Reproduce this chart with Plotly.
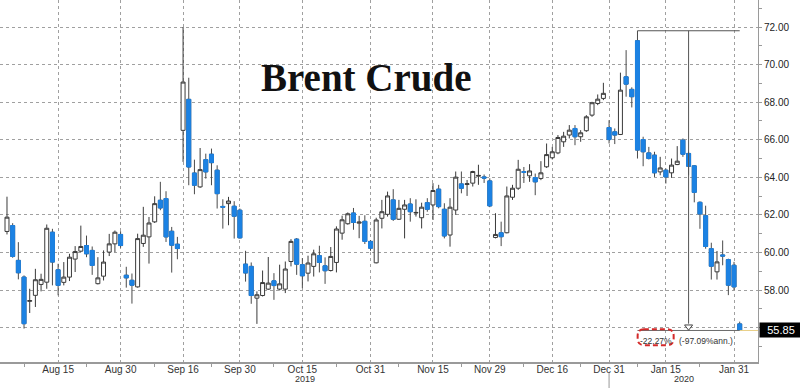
import pandas as pd
import plotly.graph_objects as go

# ---------------- data ----------------
holidays = ["2019-12-25", "2020-01-01"]
trading_days = [d.strftime("%Y-%m-%d") for d in pd.bdate_range("2019-08-02", "2020-02-03")
                if d.strftime("%Y-%m-%d") not in holidays]

open_ = [61.12, 61.43, 59.58, 58.69, 57.40, 57.72, 58.30, 58.42, 61.08, 59.08,
         58.41, 58.69, 59.65, 60.07, 60.37, 60.11, 58.34, 58.74, 60.02, 60.46,
         60.96, 58.79, 58.52, 58.17, 60.48, 60.83, 61.63, 62.78, 62.87, 61.13,
         60.44, 66.50, 68.15, 64.23, 63.49, 64.94, 65.23, 64.38, 62.45, 62.60,
         62.46, 62.25, 59.38, 59.26, 57.57, 57.71, 58.05, 58.49, 58.05, 58.05,
         59.52, 60.71, 59.35, 58.90, 59.26, 59.83, 59.29, 59.04, 59.47, 61.03,
         61.53, 62.10, 61.56, 61.66, 60.59, 59.45, 61.82, 62.03, 62.80, 61.77,
         62.30, 62.58, 62.10, 61.85, 62.65, 62.53, 63.37, 62.30, 60.93, 62.26,
         63.65, 63.62, 63.69, 64.06, 64.02, 63.81, 60.80, 61.05, 61.05, 62.94,
         63.42, 64.30, 64.08, 63.99, 63.94, 64.56, 65.04, 65.30, 65.89, 66.25,
         66.60, 66.16, 66.48, 67.31, 67.93, 68.20, 66.65, 66.42, 66.28, 69.35,
         68.68, 71.27, 66.01, 65.30, 65.18, 64.29, 64.38, 64.24, 64.68, 65.98,
         65.27, 64.61, 62.67, 61.96, 60.20, 58.97, 59.87, 59.62, 59.32, 56.20]
high = [62.97, 61.56, 60.55, 58.78, 58.07, 59.13, 58.87, 61.49, 61.26, 59.40,
        59.49, 59.93, 60.34, 61.43, 60.90, 60.32, 59.75, 60.11, 60.99, 61.17,
        61.13, 59.24, 58.88, 61.00, 62.43, 61.89, 62.99, 63.76, 63.26, 61.36,
        60.83, 72.00, 69.30, 64.94, 65.56, 65.26, 65.53, 64.64, 62.83, 62.96,
        62.73, 62.34, 60.09, 59.47, 57.93, 59.04, 59.76, 58.90, 59.35, 59.52,
        60.71, 60.77, 59.70, 59.83, 60.15, 60.36, 59.74, 60.29, 61.39, 61.96,
        62.13, 62.37, 61.95, 61.98, 60.66, 61.85, 62.80, 63.24, 63.37, 62.80,
        62.80, 62.89, 62.83, 62.65, 62.89, 63.69, 63.60, 62.62, 62.89, 64.31,
        64.31, 63.86, 64.35, 64.67, 64.15, 63.95, 62.09, 61.64, 63.51, 63.60,
        64.93, 64.55, 64.70, 64.20, 64.86, 65.80, 65.62, 66.25, 66.42, 66.78,
        66.78, 66.51, 67.31, 68.02, 68.41, 69.03, 67.04, 66.60, 69.57, 70.77,
        68.79, 71.80, 66.16, 65.62, 65.36, 65.09, 64.47, 65.00, 65.66, 66.07,
        65.36, 64.65, 62.72, 62.49, 60.52, 60.08, 60.64, 59.67, 59.50, 56.32]
low = [60.96, 59.72, 58.57, 55.95, 56.78, 57.10, 57.93, 58.07, 58.25, 57.72,
       58.25, 58.48, 58.96, 60.02, 59.75, 58.81, 58.30, 58.51, 59.81, 60.02,
       60.25, 58.13, 57.28, 58.13, 60.30, 59.41, 61.57, 62.25, 60.56, 58.93,
       59.64, 64.82, 63.58, 63.10, 63.44, 63.93, 63.58, 62.34, 61.27, 61.45,
       60.74, 60.74, 58.45, 57.27, 56.20, 57.66, 58.01, 57.48, 57.98, 57.84,
       59.26, 58.81, 58.10, 58.46, 58.72, 58.94, 58.33, 58.99, 58.94, 60.68,
       61.48, 61.21, 60.76, 60.45, 60.09, 59.42, 61.28, 61.91, 61.68, 61.73,
       60.75, 61.64, 61.91, 61.28, 62.17, 61.73, 62.35, 60.75, 60.31, 62.00,
       63.15, 63.01, 63.51, 63.60, 63.70, 62.41, 60.75, 60.34, 61.02, 62.80,
       63.33, 63.70, 63.76, 63.05, 63.85, 64.50, 64.95, 65.23, 65.62, 66.07,
       65.71, 65.89, 66.42, 67.22, 67.84, 68.11, 65.80, 65.77, 66.25, 68.29,
       67.72, 65.00, 64.59, 64.95, 64.02, 64.11, 63.67, 63.97, 64.65, 65.09,
       64.11, 62.67, 61.26, 60.20, 58.56, 58.56, 59.32, 57.73, 58.00, 55.85]
close = [61.88, 59.79, 58.92, 56.21, 57.44, 58.55, 58.57, 61.29, 59.49, 58.25,
         58.69, 59.75, 60.05, 60.32, 59.93, 59.31, 58.65, 59.49, 60.46, 61.08,
         60.37, 58.65, 58.26, 60.74, 60.92, 61.57, 62.60, 62.37, 60.83, 60.39,
         60.21, 69.07, 64.55, 63.58, 64.41, 64.29, 64.78, 63.13, 62.41, 62.74,
         61.93, 60.78, 58.91, 57.71, 57.75, 58.40, 58.37, 58.24, 58.33, 59.12,
         60.59, 59.38, 58.76, 59.44, 59.93, 59.47, 59.03, 59.79, 61.25, 61.74,
         62.06, 61.60, 61.62, 60.59, 60.23, 61.73, 62.17, 63.01, 61.77, 62.35,
         62.53, 62.17, 62.13, 62.41, 62.30, 63.30, 62.44, 60.88, 62.41, 64.01,
         63.42, 63.66, 64.31, 64.10, 63.96, 62.48, 60.96, 60.84, 63.01, 63.42,
         64.43, 64.27, 64.34, 63.76, 64.24, 65.21, 65.36, 66.12, 66.19, 66.51,
         66.16, 66.37, 67.22, 67.97, 68.16, 68.47, 66.01, 66.25, 68.64, 68.96,
         68.29, 65.45, 65.36, 65.00, 64.24, 64.50, 64.02, 64.65, 64.86, 65.23,
         64.59, 63.20, 62.05, 60.32, 59.27, 59.50, 59.81, 58.26, 58.17, 55.85]

tick_dates = ["2019-08-15", "2019-08-30", "2019-09-16", "2019-09-30", "2019-10-15",
              "2019-10-31", "2019-11-15", "2019-11-29", "2019-12-16", "2019-12-31",
              "2020-01-15", "2020-01-31"]
tick_labels = ["Aug 15", "Aug 30", "Sep 16", "Sep 30", "Oct 15", "Oct 31",
               "Nov 15", "Nov 29", "Dec 16", "Dec 31", "Jan 15", "Jan 31"]
minor_dates = ["2019-08-07", "2019-08-22", "2019-09-09", "2019-09-23", "2019-10-08",
               "2019-10-23", "2019-11-07", "2019-11-22", "2019-12-09", "2019-12-23",
               "2020-01-08", "2020-01-23"]
year_labels = ["2019", "2020"]
year_break_date = "2019-12-31"
y_ticks = [56, 58, 60, 62, 64, 66, 68, 70, 72]
y_tick_labels = ["", "58.00", "60.00", "62.00", "64.00", "66.00", "68.00", "70.00", "72.00"]
y_minor = [55, 57, 59, 61, 63, 65, 67, 69, 71, 73]
title_text = "Brent Crude"
move_text = "-22.27%"
annual_text = "(-97.09%ann.)"
peak_date = "2020-01-08"

# ---------------- derived ----------------
pos = {d: i for i, d in enumerate(trading_days)}
x = list(range(len(trading_days)))
n = len(x)
BLUE = "#1c82e3"
GRID = "#a0a0a0"
SANS = "Liberation Sans, Arial, sans-serif"

x_range = [-1.23, 132.22]
y_range = [54.172, 73.437]

i_peak = pos[peak_date]
i_last = n - 1
hi = high[i_peak]
last = close[-1]
i_mid = (i_peak + i_last) / 2.0

fig = go.Figure()

# all candles: gray wicks / outlines
fig.add_trace(go.Candlestick(
    x=x, open=open_, high=high, low=low, close=close,
    increasing=dict(line=dict(color="#3a3a3a", width=1), fillcolor="white"),
    decreasing=dict(line=dict(color="#4a4a4a", width=1), fillcolor=BLUE),
    whiskerwidth=0, hoverinfo="skip", showlegend=False))

# blue bodies on top of down candles
dn = [i for i in x if close[i] < open_[i]]
fig.add_trace(go.Candlestick(
    x=dn, open=[open_[i] for i in dn], close=[close[i] for i in dn],
    high=[open_[i] for i in dn], low=[close[i] for i in dn],
    increasing=dict(line=dict(color=BLUE, width=1), fillcolor=BLUE),
    decreasing=dict(line=dict(color=BLUE, width=1), fillcolor=BLUE),
    whiskerwidth=0, hoverinfo="skip", showlegend=False))

# measurement lines
fig.add_trace(go.Scatter(x=[i_peak, i_last], y=[hi, hi], mode="lines",
                         line=dict(color="#555555", width=1), hoverinfo="skip", showlegend=False))
fig.add_trace(go.Scatter(x=[i_peak, i_last], y=[last, last], mode="lines",
                         line=dict(color="#6a6a6a", width=1), hoverinfo="skip", showlegend=False))
fig.add_trace(go.Scatter(x=[i_last, x_range[1]], y=[last, last], mode="lines",
                         line=dict(color="#e9cf86", width=1), hoverinfo="skip", showlegend=False))
fig.add_trace(go.Scatter(x=[i_mid, i_mid], y=[hi, last + 0.36], mode="lines",
                         line=dict(color="#555555", width=1), hoverinfo="skip", showlegend=False))
fig.add_trace(go.Scatter(x=[i_mid], y=[last + 0.2], mode="markers",
                         marker=dict(symbol="triangle-down-open", size=7,
                                     color="#444444", line=dict(width=1)),
                         hoverinfo="skip", showlegend=False))

# red dashed rounded box around move text
bx0, bx1 = i_peak + 0.03, i_peak + 6.37
by0, by1 = last - 0.78, last + 0.06
rx, ry = 1.1, 0.34
path = (f"M {bx0+rx},{by1} L {bx1-rx},{by1} Q {bx1},{by1} {bx1},{by1-ry} "
        f"L {bx1},{by0+ry} Q {bx1},{by0} {bx1-rx},{by0} L {bx0+rx},{by0} "
        f"Q {bx0},{by0} {bx0},{by0+ry} L {bx0},{by1-ry} Q {bx0},{by1} {bx0+rx},{by1} Z")
shapes = [
    dict(type="path", path=path, xref="x", yref="y", layer="above",
         line=dict(color="#d42a2a", width=2, dash="5px,3px")),
    dict(type="line", xref="x", yref="paper", x0=pos[year_break_date], x1=pos[year_break_date],
         y0=-0.03, y1=-0.075, line=dict(color="#999999", width=1)),
]

annotations = [
    dict(text="<b>" + title_text + "</b>", x=0.484, y=0.787, xref="paper", yref="paper",
         showarrow=False, font=dict(family="Liberation Serif, Times New Roman, serif",
                                    size=39, color="#111111"), xanchor="center", yanchor="middle"),
    dict(text=move_text, x=(bx0 + bx1) / 2, y=last - 0.19,
         xref="x", yref="y", showarrow=False, yanchor="top",
         font=dict(family=SANS, size=8.5, color="#333333")),
    dict(text=annual_text, x=i_peak + 12.1, y=last - 0.19, xref="x", yref="y", showarrow=False,
         yanchor="top", font=dict(family=SANS, size=8.5, color="#333333")),
    dict(text=f"{last:.2f}", x=1.0, y=last, xref="paper", yref="y", xanchor="left",
         yanchor="middle", showarrow=False, bgcolor="black", width=40, height=12, xshift=1,
         font=dict(family=SANS, size=11, color="white")),
    dict(text=year_labels[0], x=(x_range[0] + pos[year_break_date]) / 2, y=-0.048,
         xref="x", yref="paper", showarrow=False, yanchor="middle",
         font=dict(family=SANS, size=9, color="#333333")),
    dict(text=year_labels[1], x=(pos[year_break_date] + x_range[1]) / 2, y=-0.048,
         xref="x", yref="paper", showarrow=False, yanchor="middle",
         font=dict(family=SANS, size=9, color="#333333")),
]

fig.update_layout(
    width=800, height=388,
    margin=dict(l=0, r=42, t=0, b=26),
    paper_bgcolor="white", plot_bgcolor="white",
    boxgap=0.3, boxgroupgap=0,
    shapes=shapes, annotations=annotations,
    xaxis=dict(
        range=x_range, rangeslider=dict(visible=False), tickmode="array",
        tickvals=[pos[d] for d in tick_dates], ticktext=tick_labels,
        showgrid=True, gridcolor=GRID, griddash="dot", gridwidth=1,
        zeroline=False, showline=True, linecolor="#9a9a9a", linewidth=2,
        ticks="", ticklabelstandoff=-3,
        tickfont=dict(family=SANS, size=10, color="#333333"),
        minor=dict(tickmode="array", tickvals=[pos[d] for d in minor_dates],
                   ticks="outside", ticklen=3, tickcolor="#9a9a9a", showgrid=False),
    ),
    yaxis=dict(
        range=y_range, side="right", tickmode="array", tickvals=y_ticks,
        ticktext=y_tick_labels, showgrid=True, gridcolor=GRID, griddash="dot",
        gridwidth=1, zeroline=False, showline=True, linecolor="#9a9a9a", linewidth=1,
        ticks="outside", ticklen=3, tickcolor="#9a9a9a",
        tickfont=dict(family=SANS, size=10, color="#222222"),
        minor=dict(tickmode="array", tickvals=y_minor, ticks="outside", ticklen=3,
                   tickcolor="#9a9a9a", showgrid=False),
    ),
)

fig.write_html("out.html")
